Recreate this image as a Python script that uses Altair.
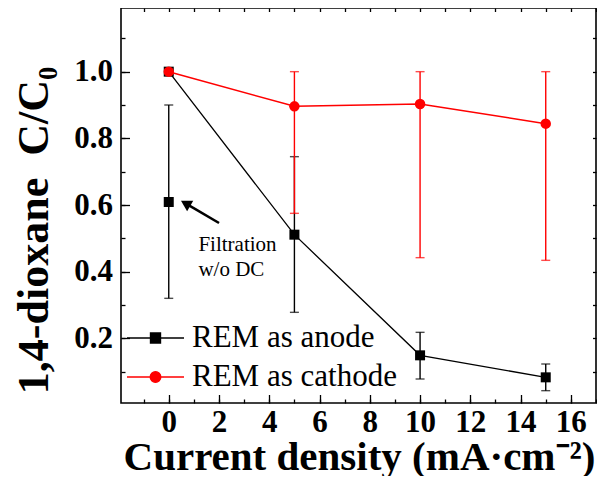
import altair as alt
import pandas as pd

# ---- data ----
x_vals = [0, 5, 10, 15]
anode_c = [1.0, 0.511, 0.149, 0.083]
anode_lo = [None, 0.278, 0.078, 0.043]
anode_hi = [None, 0.745, 0.218, 0.123]

cathode_c = [1.0, 0.896, 0.903, 0.844]
cathode_lo = [None, 0.575, 0.442, 0.434]
cathode_hi = [None, 1.0, 1.0, 1.0]

filt_x = [0]
filt_c = [0.609]
filt_lo = [0.32]
filt_hi = [0.90]

series_names = ["REM as anode", "REM as cathode"]
series_colors = ["black", "red"]

ann_text = ["Filtration", "w/o DC"]
ann_x = [1.18, 1.18]
ann_y = [0.479, 0.404]
arrow_x = [2.0]
arrow_y = [0.546]
arrow_x2 = [0.67]
arrow_y2 = [0.605]

x_major = list(range(0, 17, 2))
x_minor = list(range(-1, 18))
y_major = [0.2, 0.4, 0.6, 0.8, 1.0]
y_minor = [round(0.1 * i, 1) for i in range(1, 12)]

# ---- tables ----
anode = pd.DataFrame({"x": x_vals, "c": anode_c, "lo": anode_lo, "hi": anode_hi, "series": series_names[0]})
cathode = pd.DataFrame({"x": x_vals, "c": cathode_c, "lo": cathode_lo, "hi": cathode_hi, "series": series_names[1]})
filt = pd.DataFrame({"x": filt_x, "c": filt_c, "lo": filt_lo, "hi": filt_hi, "series": series_names[0]})
black_err = pd.concat([anode.dropna(), filt], ignore_index=True)
red_err = cathode.dropna()
black_pts = pd.concat([anode, filt], ignore_index=True)
both = pd.concat([anode, cathode], ignore_index=True)
ann = pd.DataFrame({"x": ann_x, "y": ann_y, "t": ann_text})
arrow = pd.DataFrame({"x": arrow_x, "y": arrow_y, "x2": arrow_x2, "y2": arrow_y2})

xscale = alt.Scale(domain=[-1.9, 17.0], nice=False, zero=False)
yscale = alt.Scale(domain=[0.006, 1.191], nice=False, zero=False)

FONT = "Liberation Serif"


def inward(n):
    return {"expr": str(-n)}


x_main_axis = alt.Axis(
    orient="bottom", offset=0,
    values=x_major,
    format="d",
    tickSize=inward(8.5),
    labelPadding=13,
    title="Current density (mA·cm⁻²)",
    titleX=238,
    titleY=66,
    titleAlign="center",
    titleBaseline="alphabetic",
    titleFontSize=41,
)
y_main_axis = alt.Axis(
    orient="left", offset=0,
    values=y_major,
    format=".1f",
    tickSize=inward(8.5),
    labelPadding=17,
    title="1,4-dioxane\u00a0\u00a0C/C₀",
    titleAngle=-90,
    titleX=-74,
    titleY=222,
    titleAlign="center",
    titleBaseline="alphabetic",
    titleFontSize=44,
)


def X(axis=None, field="x"):
    return alt.X(f"{field}:Q", scale=xscale, axis=axis)


def Y(field, axis=None):
    return alt.Y(f"{field}:Q", scale=yscale, axis=axis)


# frame axes
axes_main = alt.Chart(both).mark_point(opacity=0).encode(x=X(x_main_axis), y=Y("c", y_main_axis))
axes_minor = alt.Chart(both).mark_point(opacity=0).encode(
    x=X(alt.Axis(orient="bottom", offset=0, values=x_minor, labels=False, tickSize=inward(4), title=None)),
    y=Y("c", alt.Axis(orient="left", offset=0, values=y_minor, labels=False, tickSize=inward(4), title=None)),
)
axes_mirror = alt.Chart(both).mark_point(opacity=0).encode(
    x=X(alt.Axis(orient="top", offset=0, values=x_minor, labels=False, tickSize=inward(3.5), title=None)),
    y=Y("c", alt.Axis(orient="right", offset=0, values=y_minor, labels=False, tickSize=inward(3.5), title=None)),
)


def err_layers(df, color):
    rule = alt.Chart(df).mark_rule(color=color, strokeWidth=1.4).encode(x=X(), y=Y("lo"), y2="hi:Q")
    cap_lo = alt.Chart(df).mark_tick(color=color, orient="horizontal", size=9, thickness=1.4).encode(x=X(), y=Y("lo"))
    cap_hi = alt.Chart(df).mark_tick(color=color, orient="horizontal", size=9, thickness=1.4).encode(x=X(), y=Y("hi"))
    return [rule, cap_lo, cap_hi]


black_line = alt.Chart(anode).mark_line(color="black", strokeWidth=1.3).encode(x=X(), y=Y("c"))
black_points = alt.Chart(black_pts).mark_point(shape="square", filled=True, color="black", size=100, opacity=1).encode(x=X(), y=Y("c"))
red_line = alt.Chart(cathode).mark_line(color="red", strokeWidth=1.5).encode(x=X(), y=Y("c"))
red_points = alt.Chart(cathode).mark_point(shape="circle", filled=True, color="red", size=110, opacity=1).encode(x=X(), y=Y("c"))

ann_text_layer = alt.Chart(ann).mark_text(font=FONT, fontSize=21, align="left", baseline="middle", color="black").encode(
    x=X(), y=Y("y"), text="t:N"
)
arrow_rule = alt.Chart(arrow).mark_rule(color="black", strokeWidth=2.6).encode(x=X(), y=Y("y"), x2="x2:Q", y2="y2:Q")
arrow_head = alt.Chart(arrow).mark_point(shape="triangle-up", angle=300, filled=True, color="black", size=150, opacity=1).encode(
    x=X(field="x2"), y=Y("y2")
)

legend_paths = [
    "M-1,0H1M-0.175,-0.175H0.175V0.175H-0.175Z",
    "M-1,0H1M0.185,0A0.185,0.185 0 1,1 -0.185,0A0.185,0.185 0 1,1 0.185,0Z",
]
leg = alt.Legend(
    orient="none", legendX=5, legendY=315, title=None, symbolSize=3249, symbolStrokeWidth=1.4,
    symbolOpacity=1, labelFont=FONT, labelFontSize=31, labelOffset=7, rowPadding=8, padding=0,
    clipHeight=30, labelLimit=400, labelColor="black",
)
legend_layer = alt.Chart(both).mark_point(opacity=0, filled=True).encode(
    x=X(), y=Y("c"),
    fill=alt.Fill("series:N", scale=alt.Scale(domain=series_names, range=series_colors), legend=leg),
    stroke=alt.Stroke("series:N", scale=alt.Scale(domain=series_names, range=series_colors), legend=leg),
    shape=alt.Shape("series:N", scale=alt.Scale(domain=series_names, range=legend_paths), legend=leg),
)

layers = (
    [axes_main, axes_minor, axes_mirror]
    + err_layers(black_err, "black")
    + [black_line, black_points]
    + err_layers(red_err, "red")
    + [red_line, red_points, ann_text_layer, arrow_rule, arrow_head, legend_layer]
)

chart = alt.layer(*layers).resolve_axis(x="independent", y="independent").properties(
    width=475, height=395, autosize="none",
    padding={"left": 113, "top": 0, "right": 1, "bottom": 73},
).configure_view(stroke="black", strokeWidth=1.6).configure_axis(
    domain=False, grid=False, tickColor="black", tickWidth=1.3,
    labelFont=FONT, labelFontWeight="bold", labelFontSize=31, labelColor="black",
    titleFont=FONT, titleFontWeight="bold", titleColor="black",
)

chart.save("out.html", embed_options={"renderer": "svg", "actions": False})
